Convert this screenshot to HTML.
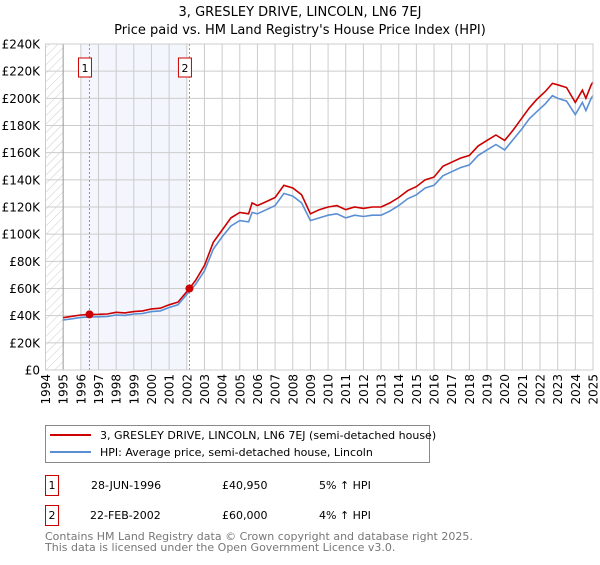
<!DOCTYPE html>
<html><head><meta charset="utf-8"><style>
body{margin:0;background:#fff;font-family:"Liberation Sans","DejaVu Sans",sans-serif;}
svg text{font-family:"DejaVu Sans","Liberation Sans",sans-serif;}
</style></head><body>
<svg id="c" width="600" height="560" xmlns="http://www.w3.org/2000/svg">
<defs><pattern id="hatch" width="6" height="6" patternUnits="userSpaceOnUse" patternTransform="rotate(45)"><line x1="0" y1="0" x2="0" y2="6" stroke="#ccc" stroke-width="1"/></pattern></defs>
<text x="300" y="16" text-anchor="middle" font-size="13">3, GRESLEY DRIVE, LINCOLN, LN6 7EJ</text>
<text x="300" y="34" text-anchor="middle" font-size="13">Price paid vs. HM Land Registry's House Price Index (HPI)</text>
<g id="plot"></g>
<g>
<rect x="45.5" y="425.5" width="384" height="37" fill="#fff" stroke="#888"/>
<line x1="50" y1="435" x2="91" y2="435" stroke="#cc0000" stroke-width="2"/>
<text x="100" y="439" font-size="11">3, GRESLEY DRIVE, LINCOLN, LN6 7EJ (semi-detached house)</text>
<line x1="50" y1="452" x2="91" y2="452" stroke="#5b8fd4" stroke-width="2"/>
<text x="100" y="456" font-size="11">HPI: Average price, semi-detached house, Lincoln</text>
</g>
<g font-size="11">
<rect x="45.5" y="475.5" width="13" height="20" fill="#fff" stroke="#cc0000"/><text x="52" y="489" text-anchor="middle">1</text>
<text x="91" y="489">28-JUN-1996</text><text x="222" y="489">£40,950</text><text x="319" y="489">5% ↑ HPI</text>
<rect x="45.5" y="505.5" width="13" height="20" fill="#fff" stroke="#cc0000"/><text x="52" y="519" text-anchor="middle">2</text>
<text x="90" y="519">22-FEB-2002</text><text x="222" y="519">£60,000</text><text x="319" y="519">4% ↑ HPI</text>
</g>
<text x="45" y="540" font-size="11" fill="#777">Contains HM Land Registry data © Crown copyright and database right 2025.</text>
<text x="45" y="551" font-size="11" fill="#777">This data is licensed under the Open Government Licence v3.0.</text>
</svg>
<script>
const years=[1995,1995.5,1996,1996.49,1997,1997.5,1998,1998.5,1999,1999.5,2000,2000.5,2001,2001.5,2002.15,2002.5,2003,2003.5,2004,2004.5,2005,2005.5,2005.7,2006,2006.5,2007,2007.5,2008,2008.5,2009,2009.5,2010,2010.5,2011,2011.5,2012,2012.5,2013,2013.5,2014,2014.5,2015,2015.5,2016,2016.5,2017,2017.5,2018,2018.5,2019,2019.5,2020,2020.5,2021,2021.4,2021.8,2022.3,2022.7,2023,2023.5,2024,2024.4,2024.6,2024.9,2025];
const priceSeries=[38.5,39.5,40.5,40.95,41,41.2,42.5,42,43,43.5,45,45.5,48,50,60,66,77,94,103,112,116,115,123,121,124,127,136,134,129,115,118,120,121,118,120,119,120,120,123,127,132,135,140,142,150,153,156,158,165,169,173,169,177,186,193,199,205,211,210,208,197,206,200,210,212];
const hpiSeries=[36.8,37.7,38.7,39,39.2,39.4,40.5,40.2,41.2,41.6,43,43.5,46,48,58,63,73,89,98,106,110,109,116,115,118,121,130,128,123,110,112,114,115,112,114,113,114,114,117,121,126,129,134,136,143,146,149,151,158,162,166,162,170,178,185,190,196,202,200,198,188,197,191,200,202];
const yTicks=[0,20,40,60,80,100,120,140,160,180,200,220,240];
const xTicks=[1994,1995,1996,1997,1998,1999,2000,2001,2002,2003,2004,2005,2006,2007,2008,2009,2010,2011,2012,2013,2014,2015,2016,2017,2018,2019,2020,2021,2022,2023,2024,2025];
const saleYears=[1996.49,2002.15];
const salePrices=[40.95,60];
const saleLabels=["1","2"];
const X0=45.5,X1=593,Y0=370,Y1=44;
const xs=y=>X0+(y-1994)/(2025-1994)*(X1-X0);
const ys=v=>Y0-v/240*(Y0-Y1);
const NS="http://www.w3.org/2000/svg";
const g=document.getElementById('plot');
function mk(t,a){const e=document.createElementNS(NS,t);for(const k in a)e.setAttribute(k,a[k]);g.appendChild(e);return e;}
let e;
e=mk('rect',{x:X0,y:Y1,width:X1-X0,height:Y0-Y1,fill:'#fff'});


e=mk('rect',{x:X0,y:Y1,width:xs(1995)-X0,height:Y0-Y1,fill:'url(#hatch)'});


e=mk('rect',{x:xs(1996),y:Y1,width:xs(2002)-xs(1996),height:Y0-Y1,fill:'#f3f6fd'});


yTicks.forEach(v=>{
 e=mk('line',{x1:X0,x2:X1,y1:ys(v),y2:ys(v),stroke:'#ccc','stroke-width':1});
 
 
 e=mk('text',{x:40,y:ys(v)+4.5,'text-anchor':'end','font-size':12});
 e.textContent='£'+(v===0?'0':v+'K');
 
 
});
xTicks.forEach(y=>{
 e=mk('line',{x1:xs(y),x2:xs(y),y1:Y1,y2:Y0,stroke:y===1995?'#999':'#ccc','stroke-width':1});
 
 
 e=mk('text',{x:0,y:0,'text-anchor':'end','font-size':12,transform:`translate(${xs(y)+4.5},374) rotate(-90)`});
 e.textContent=y;
 
 
});
saleYears.forEach((y,i)=>{
 e=mk('line',{x1:xs(y),x2:xs(y),y1:Y1,y2:Y0,stroke:'#f66','stroke-width':1,'stroke-dasharray':'2,2'});
 
 
 e=mk('rect',{x:xs(y)-11,y:58,width:13,height:19,fill:'#fff',stroke:'#cc0000'});
 
 
 e=mk('text',{x:xs(y)-4.5,y:72,'text-anchor':'middle','font-size':11});
 e.textContent=saleLabels[i];
 
 
});
const path=(arr)=>arr.map((v,i)=>(i?'L':'M')+xs(years[i]).toFixed(1)+','+ys(v).toFixed(1)).join('');
e=mk('path',{d:path(hpiSeries),fill:'none',stroke:'#5b8fd4','stroke-width':1.6});


e=mk('path',{d:path(priceSeries),fill:'none',stroke:'#cc0000','stroke-width':1.6});


saleYears.forEach((y,i)=>{
 e=mk('circle',{cx:xs(y),cy:ys(salePrices[i]),r:4,fill:'#cc0000'});
 
 
});
e=mk('rect',{x:X0,y:Y1,width:X1-X0,height:Y0-Y1,fill:'none',stroke:'#ccc'});


</script>
</body></html>
